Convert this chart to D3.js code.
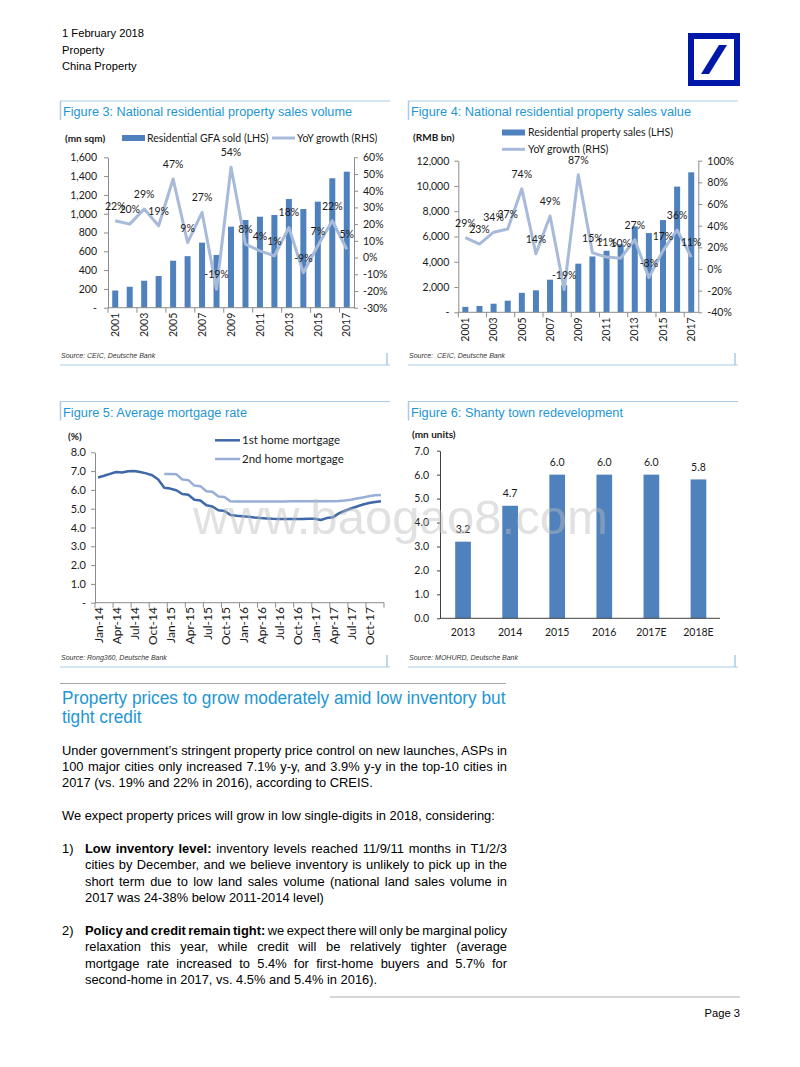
<!DOCTYPE html>
<html>
<head>
<meta charset="utf-8">
<script src="https://cdn.jsdelivr.net/npm/d3@7"></script>
<style>
body { margin: 0; background: #fff; }
#page { position: relative; width: 800px; height: 1067px; overflow: hidden; background: #fff; }
</style>
</head>
<body>
<div id="page"></div>
<script>
// ---- data ----
const years = ["2001","2002","2003","2004","2005","2006","2007","2008","2009","2010","2011","2012","2013","2014","2015","2016","2017"];
const gfaSold = [183, 223, 287, 337, 500, 548, 692, 561, 862, 933, 968, 986, 1156, 1050, 1128, 1377, 1447];
const gfaYoY = [22, 20, 29, 19, 47, 9, 27, -19, 54, 8, 4, 1, 18, -9, 7, 22, 5];
const salesValue = [430, 500, 680, 920, 1540, 1740, 2580, 2150, 3850, 4420, 4870, 5380, 6800, 6270, 7300, 9950, 11080];
const salesYoY = [29, 23, 34, 37, 74, 14, 49, -19, 87, 15, 11, 10, 27, -8, 17, 36, 11];

const gfaTicks = [0, 200, 400, 600, 800, 1000, 1200, 1400, 1600];
const gfaPctTicks = [-30, -20, -10, 0, 10, 20, 30, 40, 50, 60];
const salesTicks = [0, 2000, 4000, 6000, 8000, 10000, 12000];
const salesPctTicks = [-40, -20, 0, 20, 40, 60, 80, 100];

const months = ["Jan-14","Feb-14","Mar-14","Apr-14","May-14","Jun-14","Jul-14","Aug-14","Sep-14","Oct-14","Nov-14","Dec-14",
                "Jan-15","Feb-15","Mar-15","Apr-15","May-15","Jun-15","Jul-15","Aug-15","Sep-15","Oct-15","Nov-15","Dec-15",
                "Jan-16","Feb-16","Mar-16","Apr-16","May-16","Jun-16","Jul-16","Aug-16","Sep-16","Oct-16","Nov-16","Dec-16",
                "Jan-17","Feb-17","Mar-17","Apr-17","May-17","Jun-17","Jul-17","Aug-17","Sep-17","Oct-17","Nov-17","Dec-17"];
const firstHomeRate = [6.66, 6.75, 6.85, 6.95, 6.93, 6.99, 7.00, 6.95, 6.88, 6.78, 6.55, 6.12,
                       6.07, 5.98, 5.78, 5.74, 5.48, 5.44, 5.18, 5.12, 4.92, 4.88, 4.67, 4.62,
                       4.60, 4.57, 4.53, 4.50, 4.48, 4.46, 4.45, 4.45, 4.45, 4.45, 4.45, 4.46,
                       4.47, 4.40, 4.50, 4.54, 4.75, 4.89, 5.01, 5.12, 5.22, 5.30, 5.36, 5.40];
const secondHomeRate = [null, null, null, null, null, null, null, null, null, null, null, 6.85,
                        6.85, 6.83, 6.55, 6.52, 6.23, 6.20, 5.93, 5.90, 5.65, 5.62, 5.39, 5.38,
                        5.38, 5.38, 5.38, 5.38, 5.38, 5.38, 5.38, 5.38, 5.39, 5.40, 5.40, 5.40,
                        5.40, 5.40, 5.40, 5.40, 5.41, 5.44, 5.48, 5.54, 5.60, 5.66, 5.71, 5.73];
const rateTicks = [0, 1, 2, 3, 4, 5, 6, 7, 8];

const shantyYears = ["2013", "2014", "2015", "2016", "2017E", "2018E"];
const shantyUnits = [3.2, 4.7, 6.0, 6.0, 6.0, 5.8];
const shantyTicks = [0, 1, 2, 3, 4, 5, 6, 7];

// ---- styles ----
const barColor = "#4F81BD";
const yoyColor = "#A7BADA";
const axisColor = "#8C8C8C";
const titleColor = "#1E96D4";
const frameColor = "#A9CBE6";
const chartFont = "Lato, 'Open Sans', sans-serif";
const sansFont = "'Liberation Sans', Arial, sans-serif";

const page = d3.select("#page");
const svg = page.append("svg").attr("width", 800).attr("height", 1067);

// no narrow font installed: squeeze Liberation Sans horizontally instead,
// calibrated so the one unjustified full line lands where it does in the original
let probe = svg.append("text").attr("font-family", sansFont).attr("font-size", 13)
    .text("We expect property prices will grow in low single-digits in 2018, considering:");
const narrowX = 433 / probe.node().getComputedTextLength();
probe.remove();

// one line of text, parts = [[string, bold], ...]; width set => justify with word spacing
function textLine(x, y, parts, size, width, color) {
    let t = svg.append("text")
        .attr("transform", `translate(${x},${y}) scale(${narrowX},1)`)
        .attr("font-family", sansFont).attr("font-size", size)
        .attr("fill", color || "#000")
        .attr("xml:space", "preserve");
    parts.forEach(p => t.append("tspan").attr("font-weight", p[1] ? "bold" : "normal").text(p[0]));
    if (width) {
        let natural = t.node().getComputedTextLength();
        let spaces = parts.map(p => p[0]).join("").split(" ").length - 1;
        t.attr("word-spacing", (width / narrowX - natural) / spaces);
    }
    return t;
}

// ---- page header ----
[["1 February 2018", 37], ["Property", 54], ["China Property", 70]].forEach(h => {
    textLine(62, h[1], [[h[0]]], 11.3);
});
// logo
let logo = svg.append("g").attr("transform", "translate(688,33)");
logo.append("rect").attr("width", 52).attr("height", 53).attr("fill", "#0018A8");
logo.append("rect").attr("x", 6).attr("y", 6).attr("width", 40).attr("height", 41).attr("fill", "#fff");
logo.append("polygon").attr("points", "13,41 21,41 39,12 31,12").attr("fill", "#0018A8");

// ---- figure frame: title, rules and source ----
function frame(x0, x1, yTop, yBottom, title, titleWidth, source) {
    svg.append("line").attr("x1", x0).attr("x2", x1).attr("y1", yTop).attr("y2", yTop)
        .attr("stroke", frameColor).attr("stroke-width", 1);
    svg.append("line").attr("x1", x0 + 0.5).attr("x2", x0 + 0.5).attr("y1", yTop).attr("y2", yTop + 19)
        .attr("stroke", frameColor).attr("stroke-width", 1.5);
    svg.append("text").attr("x", x0 + 3).attr("y", yTop + 15)
        .attr("font-family", sansFont).attr("font-size", 12)
        .attr("fill", titleColor)
        .attr("textLength", titleWidth).attr("lengthAdjust", "spacingAndGlyphs")
        .text(title);
    svg.append("text").attr("x", x0 + 1).attr("y", yBottom - 7)
        .attr("font-family", sansFont).attr("font-size", 7)
        .attr("font-style", "italic").attr("fill", "#333")
        .attr("xml:space", "preserve")
        .text(source);
    svg.append("line").attr("x1", x0).attr("x2", x1).attr("y1", yBottom).attr("y2", yBottom)
        .attr("stroke", frameColor).attr("stroke-width", 1);
    svg.append("line").attr("x1", x1 - 3).attr("x2", x1 - 3).attr("y1", yBottom - 12).attr("y2", yBottom)
        .attr("stroke", frameColor).attr("stroke-width", 1.5);
}

frame(60, 390, 101, 365, "Figure 3: National residential property sales volume", 289, "Source: CEIC, Deutsche Bank");
frame(408, 738, 101, 365, "Figure 4: National residential property sales value", 280, "Source:  CEIC, Deutsche Bank");
frame(60, 390, 401.5, 667, "Figure 5: Average mortgage rate", 184, "Source: Rong360, Deutsche Bank");
frame(408, 738, 401.5, 667, "Figure 6: Shanty town redevelopment", 212, "Source: MOHURD, Deutsche Bank");

function styleAxis(sel, color) {
    sel.attr("font-family", chartFont).attr("font-size", 10.5);
    sel.select(".domain").attr("stroke", color);
    sel.selectAll(".tick line").attr("stroke", color);
    sel.selectAll(".tick text").attr("fill", "#1a1a1a");
}

// ---- bar + YoY line combo chart (figures 3 and 4) ----
function comboChart(c) {
    let x = d3.scaleBand().domain(years).range([c.x0, c.x1]);
    let yL = d3.scaleLinear().domain([0, c.leftMax]).range([c.yBottom, c.yTop]);
    let yR = d3.scaleLinear().domain([c.rMin, c.rMax]).range([c.yBottom, c.yTop]);
    let g = svg.append("g");

    g.selectAll(".bar").data(years).enter().append("rect")
        .attr("x", d => x(d) + (x.bandwidth() - c.barW) / 2)
        .attr("y", (d, i) => yL(c.bars[i]))
        .attr("width", c.barW)
        .attr("height", (d, i) => c.yBottom - yL(c.bars[i]))
        .attr("fill", barColor);

    let la = g.append("g").attr("transform", `translate(${c.x0},0)`)
        .call(d3.axisLeft(yL).tickValues(c.leftTicks).tickSize(4).tickSizeOuter(0).tickPadding(c.lPad)
            .tickFormat(d => d === 0 ? "-" : d3.format(",")(d)));
    styleAxis(la, axisColor);

    let ra = g.append("g").attr("transform", `translate(${c.x1},0)`)
        .call(d3.axisRight(yR).tickValues(c.rightTicks).tickSize(4).tickSizeOuter(0).tickPadding(c.rPad)
            .tickFormat(d => d + "%"));
    styleAxis(ra, axisColor);

    // category axis: tick every 2 years at the band edge, label at the band centre
    g.append("line").attr("x1", c.x0).attr("x2", c.x1).attr("y1", c.yBottom).attr("y2", c.yBottom)
        .attr("stroke", axisColor);
    let every2 = years.filter((d, i) => i % 2 === 0);
    g.selectAll(".xt").data(every2).enter().append("line")
        .attr("x1", d => x(d)).attr("x2", d => x(d))
        .attr("y1", c.yBottom).attr("y2", c.yBottom + 5)
        .attr("stroke", axisColor);
    g.selectAll(".xl").data(every2).enter().append("text")
        .attr("transform", d => `translate(${x(d) + x.bandwidth() / 2},${c.yBottom + 5}) rotate(-90)`)
        .attr("text-anchor", "end").attr("dy", "0.35em")
        .attr("font-family", chartFont).attr("font-size", 10.5).attr("fill", "#1a1a1a")
        .text(d => d);

    let line = d3.line().x((d, i) => x(years[i]) + x.bandwidth() / 2).y(d => yR(d));
    g.append("path").datum(c.yoy).attr("d", line)
        .attr("fill", "none").attr("stroke", yoyColor).attr("stroke-width", 3)
        .attr("stroke-linejoin", "round");

    g.selectAll(".lbl").data(c.yoy).enter().append("text")
        .attr("x", (d, i) => x(years[i]) + x.bandwidth() / 2)
        .attr("y", d => yR(d) - 11)
        .attr("text-anchor", "middle")
        .attr("font-family", chartFont).attr("font-size", 10.5).attr("fill", "#1a1a1a")
        .text(d => d + "%");
}

comboChart({x0: 108, x1: 354, yTop: 157.3, yBottom: 307.7, leftMax: 1600, rMin: -30, rMax: 60,
    leftTicks: gfaTicks, rightTicks: gfaPctTicks, bars: gfaSold, yoy: gfaYoY, barW: 6, lPad: 7, rPad: 5});
comboChart({x0: 458.3, x1: 698.3, yTop: 160.7, yBottom: 312.3, leftMax: 12000, rMin: -40, rMax: 100,
    leftTicks: salesTicks, rightTicks: salesPctTicks, bars: salesValue, yoy: salesYoY, barW: 6, lPad: 5, rPad: 5});

function legendText(x, y, t, size, bold) {
    svg.append("text").attr("x", x).attr("y", y).attr("dy", "0.35em")
        .attr("font-family", chartFont).attr("font-size", size)
        .attr("font-weight", bold ? "bold" : "normal").attr("fill", "#1a1a1a")
        .text(t);
}
// figure 3 legend
legendText(65, 138, "(mn sqm)", 10, true);
svg.append("rect").attr("x", 122).attr("y", 135).attr("width", 23).attr("height", 6).attr("fill", barColor);
legendText(147, 138, "Residential GFA sold (LHS)", 10.5);
svg.append("line").attr("x1", 272).attr("x2", 295).attr("y1", 138).attr("y2", 138).attr("stroke", yoyColor).attr("stroke-width", 3);
legendText(297, 138, "YoY growth (RHS)", 10.5);
// figure 4 legend
legendText(413, 137.7, "(RMB bn)", 10, true);
svg.append("rect").attr("x", 502).attr("y", 129.5).attr("width", 23).attr("height", 6).attr("fill", barColor);
legendText(528, 132.3, "Residential property sales (LHS)", 10.5);
svg.append("line").attr("x1", 502).attr("x2", 525).attr("y1", 149.3).attr("y2", 149.3).attr("stroke", yoyColor).attr("stroke-width", 3);
legendText(528, 149.3, "YoY growth (RHS)", 10.5);

// ---- figure 5: mortgage rates ----
{
    let x = d3.scaleBand().domain(months).range([95, 384]);
    let y = d3.scaleLinear().domain([0, 8]).range([602.7, 452.3]);
    let g = svg.append("g");
    let la = g.append("g").attr("transform", "translate(95,0)")
        .call(d3.axisLeft(y).tickValues(rateTicks).tickSize(4).tickSizeOuter(0).tickPadding(5)
            .tickFormat(d => d === 0 ? "-" : d.toFixed(1)));
    styleAxis(la, axisColor);
    la.attr("font-size", 11);
    g.append("line").attr("x1", 95).attr("x2", 384).attr("y1", 602.7).attr("y2", 602.7).attr("stroke", axisColor);
    let quarterly = months.filter((d, i) => i % 3 === 0);
    g.selectAll(".xt").data(quarterly).enter().append("line")
        .attr("x1", d => x(d)).attr("x2", d => x(d))
        .attr("y1", 602.7).attr("y2", 607.7).attr("stroke", axisColor);
    g.append("line").attr("x1", 384).attr("x2", 384).attr("y1", 602.7).attr("y2", 607.7).attr("stroke", axisColor);
    g.selectAll(".xl").data(quarterly).enter().append("text")
        .attr("transform", d => `translate(${x(d) + x.bandwidth() / 2 + 1},${607})  rotate(-90)`)
        .attr("text-anchor", "end").attr("dy", "0.35em")
        .attr("font-family", chartFont).attr("font-size", 12).attr("fill", "#1a1a1a")
        .text(d => d);

    let line = d3.line().defined(d => d != null)
        .x((d, i) => x(months[i]) + x.bandwidth() / 2).y(d => y(d));
    g.append("path").datum(secondHomeRate).attr("d", line)
        .attr("fill", "none").attr("stroke", "#97AFD6").attr("stroke-width", 2.5).attr("stroke-linejoin", "round");
    g.append("path").datum(firstHomeRate).attr("d", line)
        .attr("fill", "none").attr("stroke", "#3E68A8").attr("stroke-width", 2.5).attr("stroke-linejoin", "round");

    legendText(68, 436.7, "(%)", 10, true);
    svg.append("line").attr("x1", 215).attr("x2", 240).attr("y1", 440.3).attr("y2", 440.3).attr("stroke", "#3E68A8").attr("stroke-width", 2.5);
    legendText(242, 440.3, "1st home mortgage", 11.5);
    svg.append("line").attr("x1", 215).attr("x2", 240).attr("y1", 459).attr("y2", 459).attr("stroke", "#97AFD6").attr("stroke-width", 2.5);
    legendText(242, 459, "2nd home mortgage", 11.5);
}

// ---- figure 6: shanty town redevelopment ----
{
    let x = d3.scaleBand().domain(shantyYears).range([439.5, 722]);
    let y = d3.scaleLinear().domain([0, 7]).range([618.3, 450.7]);
    let g = svg.append("g");
    let barW = 15.7;
    g.selectAll(".bar").data(shantyYears).enter().append("rect")
        .attr("x", d => x(d) + (x.bandwidth() - barW) / 2)
        .attr("y", (d, i) => y(shantyUnits[i]))
        .attr("width", barW)
        .attr("height", (d, i) => 618.3 - y(shantyUnits[i]))
        .attr("fill", barColor);
    g.selectAll(".lbl").data(shantyUnits).enter().append("text")
        .attr("x", (d, i) => x(shantyYears[i]) + x.bandwidth() / 2)
        .attr("y", d => y(d) - 12).attr("dy", "0.35em")
        .attr("text-anchor", "middle")
        .attr("font-family", chartFont).attr("font-size", 10.5).attr("fill", "#1a1a1a")
        .text(d => d.toFixed(1));
    let la = g.append("g").attr("transform", "translate(440,0)")
        .call(d3.axisLeft(y).tickValues(shantyTicks).tickSize(3).tickSizeOuter(0).tickPadding(8)
            .tickFormat(d => d.toFixed(1)));
    styleAxis(la, "#404040");
    g.append("line").attr("x1", 440).attr("x2", 720).attr("y1", 618.3).attr("y2", 618.3).attr("stroke", "#404040");
    g.selectAll(".xl").data(shantyYears).enter().append("text")
        .attr("x", d => x(d) + x.bandwidth() / 2).attr("y", 632.3).attr("dy", "0.35em")
        .attr("text-anchor", "middle")
        .attr("font-family", chartFont).attr("font-size", 10.5).attr("fill", "#1a1a1a")
        .text(d => d);
    legendText(412, 434.3, "(mn units)", 10, true);
}

// watermark
svg.append("text").attr("x", 193).attr("y", 534)
    .attr("font-family", sansFont).attr("font-size", 48)
    .attr("fill", "#bdbdbd").attr("opacity", 0.45)
    .attr("textLength", 415).attr("lengthAdjust", "spacingAndGlyphs")
    .text("www.baogao8.com");

// ---- text section ----
svg.append("line").attr("x1", 60).attr("x2", 506).attr("y1", 683.5).attr("y2", 683.5).attr("stroke", "#A6A6A6").attr("stroke-width", 1);
let head1 = svg.append("text").attr("font-family", sansFont).attr("font-size", 19).attr("fill", titleColor)
    .text("Property prices to grow moderately amid low inventory but");
const headX = 444 / head1.node().getComputedTextLength();
head1.attr("transform", `translate(62,703.5) scale(${headX},1)`);
svg.append("text").attr("font-family", sansFont).attr("font-size", 19).attr("fill", titleColor)
    .attr("transform", `translate(62,722.5) scale(${headX},1)`)
    .text("tight credit");

const lh = 16.4;
const base0 = 754.5;
const colW = 445;
const subW = 422;
textLine(62, base0, [["Under government’s stringent property price control on new launches, ASPs in"]], 13, colW);
textLine(62, base0 + lh, [["100 major cities only increased 7.1% y-y, and 3.9% y-y in the top-10 cities in"]], 13, colW);
textLine(62, base0 + 2 * lh, [["2017 (vs. 19% and 22% in 2016), according to CREIS."]], 13);
textLine(62, base0 + 4 * lh, [["We expect property prices will grow in low single-digits in 2018, considering:"]], 13);

textLine(62, base0 + 6 * lh, [["1)"]], 13);
textLine(85, base0 + 6 * lh, [["Low inventory level:", true], [" inventory levels reached 11/9/11 months in T1/2/3"]], 13, subW);
textLine(85, base0 + 7 * lh, [["cities by December, and we believe inventory is unlikely to pick up in the"]], 13, subW);
textLine(85, base0 + 8 * lh, [["short term due to low land sales volume (national land sales volume in"]], 13, subW);
textLine(85, base0 + 9 * lh, [["2017 was 24-38% below 2011-2014 level)"]], 13);

textLine(62, base0 + 11 * lh, [["2)"]], 13);
textLine(85, base0 + 11 * lh, [["Policy and credit remain tight:", true], [" we expect there will only be marginal policy"]], 13, subW);
textLine(85, base0 + 12 * lh, [["relaxation this year, while credit will be relatively tighter (average"]], 13, subW);
textLine(85, base0 + 13 * lh, [["mortgage rate increased to 5.4% for first-home buyers and 5.7% for"]], 13, subW);
textLine(85, base0 + 14 * lh, [["second-home in 2017, vs. 4.5% and 5.4% in 2016)."]], 13);

svg.append("line").attr("x1", 330).attr("x2", 740).attr("y1", 997).attr("y2", 997).attr("stroke", "#C8C8C8").attr("stroke-width", 1.5);
let pg = textLine(0, 1017, [["Page 3"]], 11.3);
pg.attr("text-anchor", "end").attr("transform", `translate(740,1017) scale(${narrowX},1)`);
</script>
</body>
</html>
